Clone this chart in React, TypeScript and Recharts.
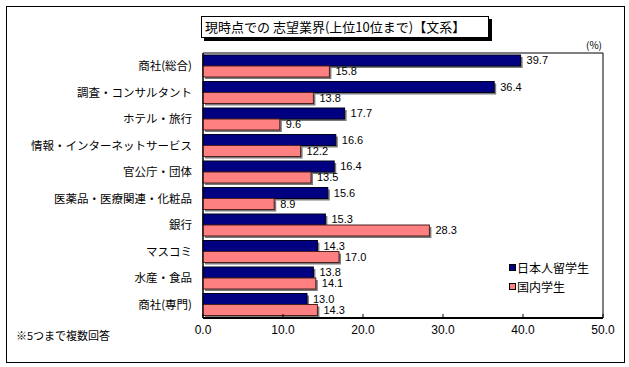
import React from "react";
import { Bar, BarChart, LabelList, ReferenceArea, XAxis, YAxis } from "recharts";

// categories, top to bottom
const industries = [
  "商社(総合)",
  "調査・コンサルタント",
  "ホテル・旅行",
  "情報・インターネットサービス",
  "官公庁・団体",
  "医薬品・医療関連・化粧品",
  "銀行",
  "マスコミ",
  "水産・食品",
  "商社(専門)",
];

// series values (%)
const abroadStudents = [39.7, 36.4, 17.7, 16.6, 16.4, 15.6, 15.3, 14.3, 13.8, 13.0];
const domesticStudents = [15.8, 13.8, 9.6, 12.2, 13.5, 8.9, 28.3, 17.0, 14.1, 14.3];

const xTicks = [0, 10, 20, 30, 40, 50];

const seriesNames = ["日本人留学生", "国内学生"];

const FONT = "'Noto Sans CJK JP', 'Noto Sans', sans-serif";
const NUM_FONT = "'Liberation Sans Narrow', 'Liberation Sans', sans-serif";

const BLUE = "#000080";
const PINK = "#FF8080";

const data = industries.map((name, i) => ({
  name,
  abroad: abroadStudents[i],
  domestic: domesticStudents[i],
}));

// bar with an Excel style drop shadow
function ShadowBar(props: any) {
  const { x, y, width, height, fill, stroke } = props;
  if (!width || width <= 0) return null;
  return (
    <g>
      <rect x={x + 2} y={y + 2} width={width} height={height} fill="#7a7a7a" />
      <rect x={x} y={y} width={width} height={height} fill={fill} stroke={stroke} strokeWidth={1} />
    </g>
  );
}

function LegendBox() {
  const colors = [BLUE, PINK];
  return (
    <div style={{ fontFamily: FONT, fontSize: 12, color: "#000", lineHeight: "19px" }}>
      {seriesNames.map((n, i) => (
        <div key={n} style={{ display: "flex", alignItems: "center" }}>
          <span
            style={{
              display: "inline-block",
              width: 5,
              height: 5,
              background: colors[i],
              border: "1px solid #000",
              marginRight: 1,
            }}
          />
          {n}
        </div>
      ))}
    </div>
  );
}

export default function App() {
  return (
    <div style={{ position: "absolute", left: 0, top: 0, width: 629, height: 367, background: "#fff" }}>
      <div
        style={{
          position: "absolute",
          left: 6,
          top: 6,
          width: 617,
          height: 355,
          border: "1px solid #000",
        }}
      />
      <div
        style={{
          position: "absolute",
          left: 201,
          top: 16,
          width: 283,
          height: 20,
          border: "1px solid #000",
          boxShadow: "3px 3px 0 #000",
          background: "#fff",
          fontFamily: FONT,
          fontSize: 13,
          lineHeight: "20px",
          paddingLeft: 3,
          whiteSpace: "nowrap",
        }}
      >
        現時点での 志望業界(上位10位まで)【文系】
      </div>
      <div style={{ position: "absolute", left: 586, top: 37, fontFamily: FONT, fontSize: 10 }}>(%)</div>
      <div style={{ position: "absolute", left: 16, top: 327, fontFamily: FONT, fontSize: 11 }}>※5つまで複数回答</div>
      <BarChart
        width={629}
        height={367}
        data={data}
        layout="vertical"
        margin={{ top: 53, right: 26, bottom: 0, left: 0 }}
        barCategoryGap={2}
        barGap={0}
        style={{ position: "absolute", left: 0, top: 0 }}
      >
        <ReferenceArea x1={0} x2={50} fill="none" stroke="#000" strokeWidth={1} />
        <XAxis
          type="number"
          domain={[0, 50]}
          ticks={xTicks}
          tickFormatter={(v: number) => v.toFixed(1)}
          height={49}
          tickSize={-4}
          tickMargin={11}
          axisLine={{ stroke: "#000", strokeWidth: 2 }}
          tickLine={{ stroke: "#000" }}
          tick={{ fill: "#000", fontSize: 12, fontFamily: NUM_FONT }}
        />
        <YAxis
          type="category"
          dataKey="name"
          width={203}
          tickLine={false}
          tickSize={0}
          tickMargin={11}
          interval={0}
          axisLine={{ stroke: "#000" }}
          tick={{ fill: "#000", fontSize: 11.5, fontFamily: FONT }}
        />
        <Bar
          dataKey="abroad"
          name={seriesNames[0]}
          fill={BLUE}
          stroke="#000020"
          shape={ShadowBar}
          isAnimationActive={false}
        >
          <LabelList
            dataKey="abroad"
            position="right"
            offset={6}
            formatter={(v: number) => v.toFixed(1)}
            style={{ fill: "#000", fontSize: 11, fontFamily: NUM_FONT }}
          />
        </Bar>
        <Bar
          dataKey="domestic"
          name={seriesNames[1]}
          fill={PINK}
          stroke="#4d2020"
          shape={ShadowBar}
          isAnimationActive={false}
        >
          <LabelList
            dataKey="domestic"
            position="right"
            offset={6}
            formatter={(v: number) => v.toFixed(1)}
            style={{ fill: "#000", fontSize: 11, fontFamily: NUM_FONT }}
          />
        </Bar>
      </BarChart>
      <div style={{ position: "absolute", left: 509, top: 258 }}>
        <LegendBox />
      </div>
    </div>
  );
}
